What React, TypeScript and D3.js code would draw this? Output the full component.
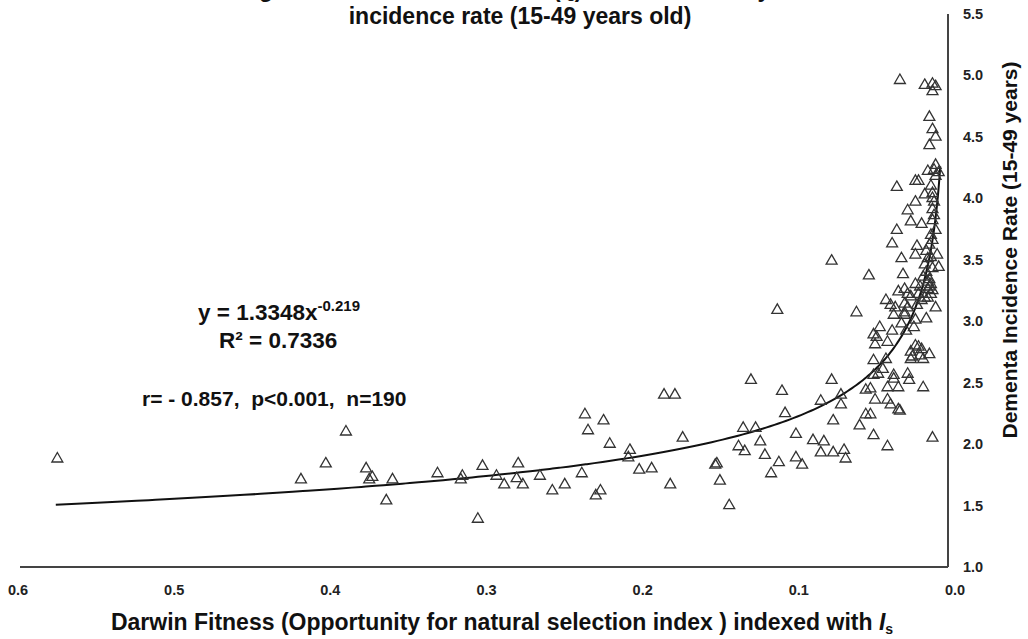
import { useEffect, useRef } from 'react';
import * as d3 from 'd3';

// [fitness index Is, dementia incidence rate]
const tailPoints: [number, number][] = [
  [0.574, 1.88], [0.417, 1.71], [0.401, 1.84], [0.388, 2.10], [0.375, 1.80], [0.373, 1.71],
  [0.371, 1.73], [0.358, 1.71], [0.362, 1.54], [0.329, 1.76], [0.313, 1.74], [0.314, 1.71],
  [0.300, 1.82], [0.303, 1.39], [0.291, 1.74], [0.286, 1.67],
];

const midPoints: [number, number][] = [
  [0.278, 1.72], [0.277, 1.84], [0.274, 1.67], [0.263, 1.74], [0.255, 1.62], [0.247, 1.67],
  [0.236, 1.76], [0.234, 2.24], [0.232, 2.11], [0.227, 1.58], [0.224, 1.62], [0.222, 2.19],
  [0.218, 2.00], [0.206, 1.89], [0.205, 1.95], [0.199, 1.79], [0.191, 1.80], [0.183, 2.40],
  [0.176, 2.40], [0.179, 1.67], [0.171, 2.05], [0.149, 1.84], [0.150, 1.83], [0.147, 1.70],
  [0.141, 1.50], [0.135, 1.98], [0.132, 2.13], [0.131, 1.94], [0.127, 2.52], [0.124, 2.13],
  [0.121, 2.02], [0.118, 1.91], [0.114, 1.76], [0.110, 3.09], [0.109, 1.85], [0.107, 2.43],
  [0.105, 2.25],
];

const nearPoints: [number, number][] = [
  [0.098, 2.08], [0.098, 1.89], [0.094, 1.83], [0.087, 2.03], [0.082, 2.35], [0.080, 2.02],
  [0.082, 1.93], [0.075, 2.52], [0.074, 2.19], [0.074, 1.93], [0.075, 3.49], [0.067, 1.95],
  [0.066, 1.88], [0.069, 2.40], [0.069, 2.32], [0.057, 2.15], [0.059, 3.07], [0.051, 3.37],
  [0.053, 2.44], [0.050, 2.45], [0.053, 2.24], [0.050, 2.24],
];

const clusterLow: [number, number][] = [
  [0.048, 2.89], [0.046, 2.87], [0.047, 2.81], [0.036, 2.92], [0.027, 2.92], [0.039, 2.83],
  [0.021, 2.80], [0.019, 2.79], [0.017, 2.77], [0.024, 2.75], [0.024, 2.69], [0.016, 2.69],
  [0.012, 2.73], [0.048, 2.68], [0.040, 2.69], [0.042, 2.61], [0.045, 2.57], [0.048, 2.56],
  [0.035, 2.56], [0.035, 2.53], [0.026, 2.57], [0.025, 2.52], [0.039, 2.46], [0.032, 2.46],
  [0.016, 2.46], [0.047, 2.36], [0.039, 2.36], [0.037, 2.32], [0.032, 2.28], [0.031, 2.27],
  [0.048, 2.07], [0.039, 1.98], [0.010, 2.05], [0.018, 2.72], [0.023, 2.71],
];

const clusterHigh: [number, number][] = [
  [0.031, 4.96], [0.015, 4.92], [0.010, 4.93], [0.008, 4.91], [0.010, 4.87], [0.012, 4.66],
  [0.010, 4.56], [0.008, 4.50], [0.012, 4.43], [0.008, 4.27], [0.009, 4.23], [0.006, 4.21],
  [0.008, 4.18], [0.013, 4.22], [0.033, 4.09], [0.021, 4.14], [0.019, 4.14], [0.011, 4.10],
  [0.010, 4.04], [0.015, 4.03], [0.021, 3.97], [0.009, 3.97], [0.026, 3.90], [0.010, 3.91],
  [0.024, 3.81], [0.017, 3.79], [0.010, 3.82], [0.033, 3.74], [0.008, 3.74], [0.036, 3.63],
  [0.010, 3.66], [0.020, 3.61], [0.021, 3.54], [0.014, 3.57], [0.030, 3.51], [0.007, 3.54],
  [0.013, 3.51], [0.011, 3.52], [0.015, 3.46], [0.010, 3.43], [0.006, 3.44], [0.029, 3.38],
  [0.012, 3.34], [0.011, 3.30], [0.032, 3.24], [0.028, 3.26], [0.026, 3.22], [0.021, 3.30],
  [0.013, 3.26], [0.011, 3.22], [0.013, 3.19], [0.040, 3.17], [0.037, 3.13], [0.034, 3.11],
  [0.035, 3.05], [0.028, 3.14], [0.026, 3.11], [0.020, 3.13], [0.017, 3.17], [0.015, 3.19],
  [0.008, 3.11], [0.028, 3.07], [0.028, 3.05], [0.021, 3.01], [0.014, 3.02], [0.010, 4.00],
  [0.009, 3.86], [0.011, 3.70], [0.012, 3.62], [0.014, 3.40], [0.016, 3.36], [0.018, 3.28],
  [0.012, 3.28], [0.010, 3.25], [0.013, 3.32], [0.019, 3.22], [0.024, 3.20], [0.022, 2.95],
  [0.030, 2.98], [0.044, 2.95],
];

const xTicks = [0.6, 0.5, 0.4, 0.3, 0.2, 0.1, 0.0];
const yTicks = [1.0, 1.5, 2.0, 2.5, 3.0, 3.5, 4.0, 4.5, 5.0, 5.5];

// power fit y = a * x^b
const fitA = 1.3348;
const fitB = -0.219;
const fitRange: [number, number] = [0.575, 0.005];

const W = 1028;
const H = 639;
const FONT = '"Liberation Sans", Arial, Helvetica, sans-serif';

export default function App() {
  const svgRef = useRef<SVGSVGElement>(null);

  useEffect(() => {
    if (!svgRef.current) return;
    const svg = d3.select(svgRef.current);
    svg.selectAll('*').remove();

    const x = d3.scaleLinear().domain([0.6, 0]).range([17, 948]);
    const y = d3.scaleLinear().domain([1, 5.5]).range([567, 14]);
    // tick labels in the original sit slightly right of the plot range
    const xLabel = d3.scaleLinear().domain([0.6, 0]).range([18, 955]);

    // axes
    svg.append('line')
      .attr('x1', x(0.6) + 3).attr('x2', x(0)).attr('y1', y(1)).attr('y2', y(1))
      .attr('stroke', '#444').attr('stroke-width', 2);
    svg.append('line')
      .attr('x1', x(0)).attr('x2', x(0)).attr('y1', y(1)).attr('y2', y(5.5))
      .attr('stroke', '#444').attr('stroke-width', 2);

    svg.append('g').selectAll('text').data(xTicks).enter().append('text')
      .attr('x', d => xLabel(d))
      .attr('y', 595)
      .attr('text-anchor', 'middle')
      .attr('font-family', FONT).attr('font-weight', 'bold').attr('font-size', 14.5)
      .attr('fill', '#222')
      .text(d => d.toFixed(1));

    svg.append('g').selectAll('text').data(yTicks).enter().append('text')
      .attr('x', 963)
      .attr('y', d => y(d) + 5)
      .attr('font-family', FONT).attr('font-weight', 'bold').attr('font-size', 14.5)
      .attr('fill', '#222')
      .text(d => d.toFixed(1));

    // fitted curve
    const curveX = d3.range(0, 201).map(i => fitRange[0] * Math.pow(fitRange[1] / fitRange[0], i / 200));
    const line = d3.line<number>()
      .x(d => x(d))
      .y(d => y(fitA * Math.pow(d, fitB)))
      .curve(d3.curveMonotoneX);
    svg.append('path')
      .datum(curveX)
      .attr('d', line)
      .attr('fill', 'none')
      .attr('stroke', '#111')
      .attr('stroke-width', 2);

    // points
    const allPoints = [...tailPoints, ...midPoints, ...nearPoints, ...clusterLow, ...clusterHigh];
    const tri = d3.symbol().type(d3.symbolTriangle).size(52);
    svg.append('g').selectAll('path').data(allPoints).enter().append('path')
      .attr('d', tri)
      .attr('transform', d => `translate(${x(d[0])},${y(d[1])})`)
      .attr('fill', 'none')
      .attr('stroke', '#333')
      .attr('stroke-width', 1.3);

    // annotations
    const eq = svg.append('text')
      .attr('x', 198).attr('y', 320)
      .attr('font-family', FONT).attr('font-weight', 'bold').attr('font-size', 22.5).attr('fill', '#111');
    eq.append('tspan').text('y = 1.3348x');
    eq.append('tspan').attr('dy', -9).attr('font-size', 15).text('-0.219');

    svg.append('text')
      .attr('x', 219).attr('y', 348)
      .attr('font-family', FONT).attr('font-weight', 'bold').attr('font-size', 22.5).attr('fill', '#111')
      .text('R² = 0.7336');

    svg.append('text')
      .attr('x', 142).attr('y', 406)
      .attr('font-family', FONT).attr('font-weight', 'bold').attr('font-size', 21).attr('fill', '#111')
      .attr('xml:space', 'preserve')
      .text('r= - 0.857,  p<0.001,  n=190');

    // titles (first line is cut off at the top edge, as in the original)
    const t1 = svg.append('text')
      .attr('x', 500).attr('y', -3).attr('text-anchor', 'middle')
      .attr('font-family', FONT).attr('font-weight', 'bold').attr('font-size', 23).attr('fill', '#111');
    t1.append('tspan').text('Regression of Darwin fitness (I');
    t1.append('tspan').attr('font-size', 14).attr('dy', 4).text('s');
    t1.append('tspan').attr('dy', -4).text(') and dementia by');

    svg.append('text')
      .attr('x', 520).attr('y', 24).attr('text-anchor', 'middle')
      .attr('font-family', FONT).attr('font-weight', 'bold').attr('font-size', 23).attr('fill', '#111')
      .text('incidence rate (15-49 years old)');

    const xt = svg.append('text')
      .attr('x', 502).attr('y', 630).attr('text-anchor', 'middle')
      .attr('font-family', FONT).attr('font-weight', 'bold').attr('font-size', 23).attr('fill', '#111');
    xt.append('tspan').text('Darwin Fitness (Opportunity for natural selection index ) indexed with ');
    xt.append('tspan').attr('font-style', 'italic').text('I');
    xt.append('tspan').attr('font-size', 14).attr('dy', 4).text('s');

    svg.append('text')
      .attr('transform', `translate(1017, 250) rotate(-90)`)
      .attr('text-anchor', 'middle')
      .attr('font-family', FONT).attr('font-weight', 'bold').attr('font-size', 21).attr('fill', '#111')
      .text('Dementa Incidence Rate (15-49 years)');
  }, []);

  return (
    <svg
      ref={svgRef}
      width={W}
      height={H}
      style={{ position: 'absolute', left: 0, top: 0, background: '#fff' }}
    />
  );
}
